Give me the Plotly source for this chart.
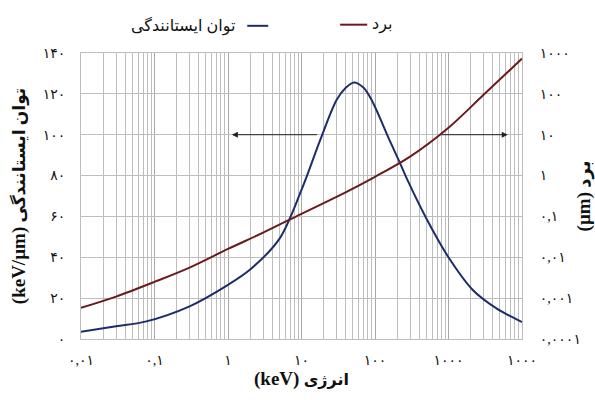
import math
import plotly.graph_objects as go

# Stopping power (keV/µm) versus energy (keV)
energy_sp = [0.01, 0.03, 0.075, 0.3, 1, 2, 5, 10, 18, 30, 40, 52, 70, 90,
             157, 215, 275, 500, 1000, 2140, 4490, 10000]
stopping_power = [3.5, 6.2, 8.5, 16, 26.5, 34, 49, 73, 97.5, 117, 123, 125.6, 123, 117,
                  97.5, 86.7, 78, 59, 40, 24, 15, 8.3]

# Range (µm) versus energy (keV)
energy_rng = [0.01, 0.03, 0.1, 0.3, 1, 3, 10, 30, 100, 300, 1000, 3000, 10000]
range_um = [5.8e-4, 1.09e-3, 2.5e-3, 5.6e-3, 0.016, 0.040, 0.116, 0.30, 0.93, 2.9,
            14.8, 95, 730]

# Tick labels (Persian digits)
x_tick_vals = [0.01, 0.1, 1, 10, 100, 1000, 10000]
x_tick_text = ["۰,۰۱", "۰,۱", "۱", "۱۰", "۱۰۰", "۱۰۰۰", "۱۰۰۰"]
sp_tick_vals = [0, 20, 40, 60, 80, 100, 120, 140]
sp_tick_text = ["۰", "۲۰", "۴۰", "۶۰", "۸۰", "۱۰۰", "۱۲۰", "۱۴۰"]
rng_tick_vals = [1e-4, 1e-3, 1e-2, 1e-1, 1, 10, 100, 1000]
rng_tick_text = ["۰,۰۰۰۱", "۰,۰۰۱", "۰,۰۱", "۰,۱", "۱", "۱۰", "۱۰۰", "۱۰۰۰"]

# Arrows: from each curve toward its own axis
sp_arrow = dict(y=100, tail=17, head=1.13)
rng_arrow = dict(y=10, tail=764, head=6400)

BLUE = "#1d2d6b"
RED = "#6b1a1c"
GRID = "#bdbdbd"
FONT = "Liberation Serif, DejaVu Sans, serif"

minor_x = [m * 10 ** e for e in range(-2, 4) for m in range(2, 10)]


def title(unit, label, unit_size, label_size):
    return (f"<b><span style='font-size:{unit_size}px'>{unit}</span> "
            f"<span style='font-size:{label_size}px'>{label}</span></b>")


fig = go.Figure()
fig.add_trace(go.Scatter(x=energy_sp, y=stopping_power, mode="lines",
                         line=dict(color=BLUE, width=2, shape="spline", smoothing=0.9),
                         yaxis="y", showlegend=False))
fig.add_trace(go.Scatter(x=energy_rng, y=range_um, mode="lines",
                         line=dict(color=RED, width=2, shape="spline", smoothing=0.9),
                         yaxis="y2", showlegend=False))

fig.add_annotation(x=math.log10(sp_arrow["head"]), y=sp_arrow["y"], xref="x", yref="y",
                   ax=math.log10(sp_arrow["tail"]), ay=sp_arrow["y"], axref="x", ayref="y",
                   text="", showarrow=True, arrowhead=2, arrowsize=1.2, arrowwidth=1,
                   arrowcolor="#222222")
fig.add_annotation(x=math.log10(rng_arrow["head"]), y=math.log10(rng_arrow["y"]), xref="x", yref="y2",
                   ax=math.log10(rng_arrow["tail"]), ay=math.log10(rng_arrow["y"]), axref="x", ayref="y2",
                   text="", showarrow=True, arrowhead=2, arrowsize=1.2, arrowwidth=1,
                   arrowcolor="#222222")

# Legend (right-to-left layout)
fig.add_annotation(x=0.354, y=1.095, xref="paper", yref="paper", xanchor="right", yanchor="middle",
                   text="توان ایستانندگی", showarrow=False, font=dict(size=16, color="#111"))
fig.add_shape(type="line", xref="paper", yref="paper", x0=0.377, x1=0.4245, y0=1.095, y1=1.095,
              line=dict(color=BLUE, width=2))
fig.add_shape(type="line", xref="paper", yref="paper", x0=0.5875, x1=0.649, y0=1.099, y1=1.099,
              line=dict(color=RED, width=2))
fig.add_annotation(x=0.6555, y=1.099, xref="paper", yref="paper", xanchor="left", yanchor="middle",
                   text="برد", showarrow=False, font=dict(size=16, color="#111"))

fig.update_layout(
    width=595, height=400,
    margin=dict(l=81, r=73, t=53, b=61),
    paper_bgcolor="white", plot_bgcolor="white",
    font=dict(family=FONT, size=14, color="#111"),
    showlegend=False,
    xaxis=dict(type="log", range=[-2, 4], tickvals=x_tick_vals, ticktext=x_tick_text,
               automargin=False,
               showgrid=True, gridcolor="#a8a8a8", gridwidth=1,
               minor=dict(tickvals=minor_x, showgrid=True, gridcolor=GRID, gridwidth=1, ticks=""),
               showline=True, linecolor=GRID, mirror=True, zeroline=False,
               ticks="outside", ticklen=8, tickcolor="rgba(0,0,0,0)",
               tickfont=dict(size=14),
               title=dict(text=title("(keV)", "انرژی", 19, 16), standoff=5)),
    yaxis=dict(range=[0, 140], tickvals=sp_tick_vals, ticktext=sp_tick_text,
               automargin=False,
               showgrid=True, gridcolor=GRID, gridwidth=1, zeroline=False,
               showline=True, linecolor=GRID, mirror=True,
               ticks="outside", ticklen=12, tickcolor="rgba(0,0,0,0)",
               tickfont=dict(size=14),
               title=dict(text=title("(keV/µm)", "توان ایستانندگی", 19, 17), standoff=12)),
    yaxis2=dict(type="log", range=[-4, 3], overlaying="y", side="right",
                automargin=False,
                tickvals=rng_tick_vals, ticktext=rng_tick_text,
                showgrid=False, zeroline=False, showline=False,
                ticks="outside", ticklen=14, tickcolor="rgba(0,0,0,0)",
                tickfont=dict(size=14),
                title=dict(text=title("(µm)", "برد", 19, 18), standoff=10)),
)

fig.write_html("out.html")
